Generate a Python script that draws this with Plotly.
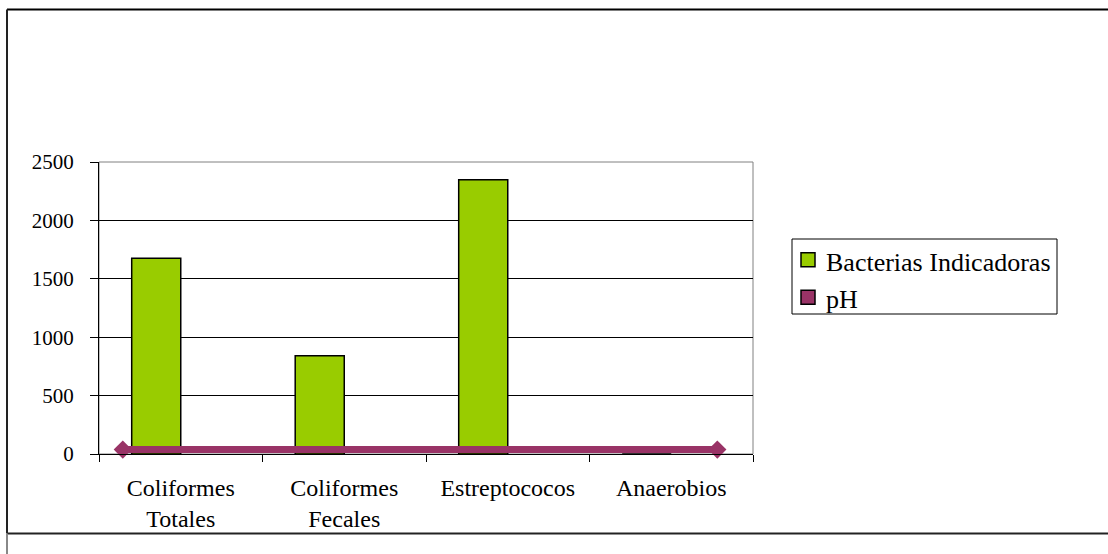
import plotly.graph_objects as go

categories = ["Coliformes<br>Totales", "Coliformes<br>Fecales", "Estreptococos", "Anaerobios"]
bacterias = [1675, 842, 2348, 0]
ph_values = [38, 38, 38, 38]
y_ticks = [0, 500, 1000, 1500, 2000, 2500]
series_names = ["Bacterias Indicadoras", "pH"]

GREEN = "#99CC00"
PURPLE = "#993366"
FONT = "Liberation Serif"

W, H = 1108, 554
L, R, T, B = 99, 1108 - 753, 162, 554 - 454
pw, ph = W - L - R, H - T - B


def px_x(p):
    return (p - L) / pw


def px_y(p):
    return (H - B - p) / ph


fig = go.Figure()

fig.add_trace(go.Bar(
    x=categories, y=bacterias, name=series_names[0],
    offset=-0.3, width=0.3,
    marker=dict(color=GREEN, line=dict(color="black", width=1.5)),
    xaxis="x", yaxis="y",
))

n = len(ph_values)
fig.add_trace(go.Scatter(
    x=categories, y=ph_values, name=series_names[1], mode="lines+markers",
    line=dict(color=PURPLE, width=7),
    marker=dict(symbol="diamond", size=14, color=PURPLE,
                opacity=[1 if i in (0, n - 1) else 0 for i in range(n)]),
    xaxis="x2", yaxis="y", cliponaxis=False,
))

# manual legend (square keys, as in the original)
legend_colors = [GREEN, PURPLE]
legend_key_y = [259.7, 297.3]
legend_text_y = [262, 299.5]
shapes = [
    dict(type="rect", xref="paper", yref="paper", x0=0, x1=1, y0=0, y1=1,
         line=dict(color="#808080", width=1), layer="below"),
    dict(type="rect", xref="paper", yref="paper",
         x0=px_x(792), x1=px_x(1057), y0=px_y(239), y1=px_y(314),
         line=dict(color="black", width=1), fillcolor="white"),
]
annotations = []
for name, col, ky, ty in zip(series_names, legend_colors, legend_key_y, legend_text_y):
    shapes.append(dict(type="rect", xref="paper", yref="paper",
                       x0=px_x(801), x1=px_x(815), y0=px_y(ky - 7), y1=px_y(ky + 7),
                       line=dict(color="black", width=1.5), fillcolor=col))
    annotations.append(dict(text=name, xref="paper", yref="paper",
                            x=px_x(824), y=px_y(ty), xanchor="left", yanchor="middle",
                            showarrow=False,
                            font=dict(family=FONT, size=26, color="black")))

# outer frame
shapes += [
    dict(type="line", xref="paper", yref="paper", x0=px_x(7), x1=px_x(1108),
         y0=px_y(9.5), y1=px_y(9.5), line=dict(color="black", width=2)),
    dict(type="line", xref="paper", yref="paper", x0=px_x(7), x1=px_x(1108),
         y0=px_y(533.5), y1=px_y(533.5), line=dict(color="#222222", width=2)),
    dict(type="line", xref="paper", yref="paper", x0=px_x(7), x1=px_x(7),
         y0=px_y(9.5), y1=px_y(533.5), line=dict(color="#222222", width=2)),
    dict(type="line", xref="paper", yref="paper", x0=px_x(7), x1=px_x(7),
         y0=px_y(533.5), y1=px_y(554), line=dict(color="#888888", width=2)),
]

fig.update_layout(
    width=W, height=H,
    margin=dict(l=L, r=R, t=T, b=B, autoexpand=False),
    paper_bgcolor="white", plot_bgcolor="white",
    font=dict(family=FONT, color="black", size=20),
    barmode="overlay",
    showlegend=False,
    xaxis=dict(
        type="category", tickson="boundaries", ticks="outside", ticklen=7,
        tickcolor="black", showline=True, linecolor="black", linewidth=1,
        showgrid=False, tickfont=dict(family=FONT, size=24, color="black"),
        range=[-0.5, 3.5], fixedrange=True, ticklabelstandoff=12,
    ),
    xaxis2=dict(
        type="category", overlaying="x", visible=False,
        range=[-0.12, 3.18],
    ),
    yaxis=dict(
        range=[0, 2500], tickvals=y_ticks, ticks="outside", ticklen=8,
        tickcolor="black", showline=True, linecolor="black", linewidth=1,
        showgrid=True, gridcolor="black", gridwidth=1, zeroline=False,
        tickfont=dict(family=FONT, size=21, color="black"),
        ticklabelstandoff=12,
    ),
    shapes=shapes,
    annotations=annotations,
)

fig.write_html("out.html", config={"displayModeBar": False},
               post_script="document.body.style.margin='0';")
